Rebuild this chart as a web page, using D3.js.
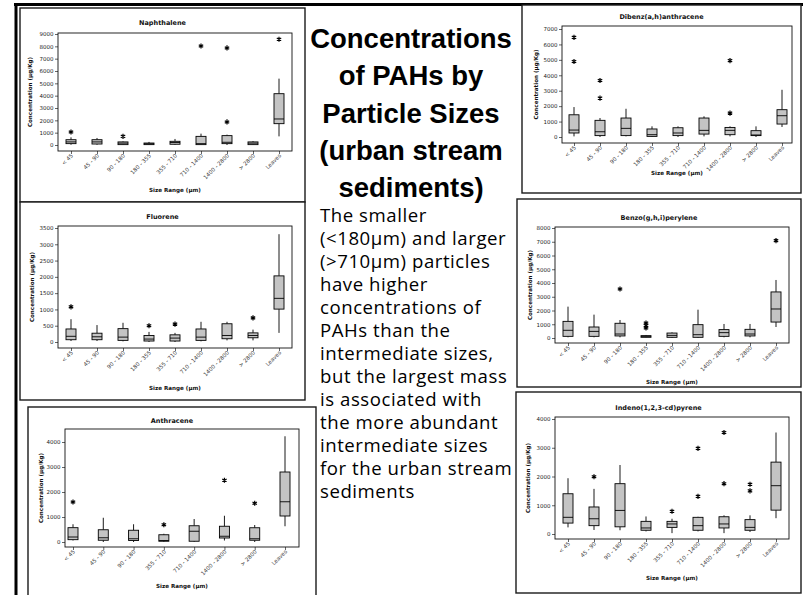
<!DOCTYPE html>
<html>
<head>
<meta charset="utf-8">
<script src="https://cdn.jsdelivr.net/npm/d3@7"></script>
<style>
  html, body { margin: 0; padding: 0; background: #fff; }
  svg { display: block; }
</style>
</head>
<body>
<svg id="slide" width="803" height="595"></svg>
<script>
// Size fractions (µm) used on the x axes
const sizeClasses = ["< 45", "45 - 90", "90 - 180", "180 - 355", "355 - 710", "710 - 1400", "1400 - 2800", "> 2800", "Leaves"];
const anthraceneClasses = ["< 45", "45 - 90", "90 - 180", "355 - 710", "710 - 1400", "1400 - 2800", "> 2800", "Leaves"];

// Box statistics per size class: [lower whisker, Q1, median, Q3, upper whisker] in µg/Kg
const naphthaleneStats = [[20,110,250,430,620],[20,80,250,430,570],[0,30,150,250,300],[0,30,100,160,250],[0,60,200,300,490],[0,30,110,700,920],[0,110,220,760,840],[0,30,150,250,320],[700,1730,2110,4160,5380]];
const naphthaleneOutliers = [[1050],[],[700],[],[],[8030],[7870,1870],[],[8570]];
const naphthaleneTicks = [0,1000,2000,3000,4000,5000,6000,7000,8000,9000];

const fluoreneStats = [[30,70,175,400,700],[30,70,160,270,520],[20,50,150,410,590],[0,30,90,200,310],[0,30,120,220,280],[20,50,150,400,620],[50,100,200,560,620],[50,130,200,280,380],[280,1010,1340,2030,3310]];
const fluoreneOutliers = [[1080],[],[],[500],[550],[],[],[740],[]];
const fluoreneTicks = [0,500,1000,1500,2000,2500,3000,3500];

const anthraceneStats = [[60,93,200,573,710],[0,70,170,490,970],[0,60,130,470,710],[0,30,60,290,330],[0,30,430,650,920],[60,160,230,630,1050],[0,70,130,570,680],[630,1040,1610,2800,4230]];
const anthraceneOutliers = [[1600],[],[],[690],[],[2470],[1550],[]];
const anthraceneTicks = [0,1000,2000,3000,4000];

const dibenzStats = [[40,260,450,1440,1940],[0,90,340,1080,1230],[40,90,560,1230,1830],[0,40,150,520,690],[0,90,260,600,690],[40,190,430,1230,1340],[40,150,430,620,690],[0,90,130,410,690],[650,840,1380,1770,3060]];
const dibenzOutliers = [[6460,4890],[3660,2520],[],[],[],[],[4950,1550],[],[]];
const dibenzTicks = [0,1000,2000,3000,4000,5000,6000,7000];

const benzoStats = [[50,120,560,1210,2280],[50,120,480,800,1700],[50,150,290,1070,1310],[30,50,120,170,220],[0,50,190,360,410],[0,50,240,970,2060],[50,120,390,610,1020],[50,150,290,630,1020],[800,1160,2110,3350,4220]];
const benzoOutliers = [[],[],[3560],[1090,900,730],[],[],[],[],[7080]];
const benzoTicks = [0,1000,2000,3000,4000,5000,6000,7000,8000];

const indenoStats = [[230,380,580,1400,1940],[140,290,530,940,1570],[130,250,820,1750,2400],[90,130,210,440,610],[30,230,350,440,530],[90,130,290,580,600],[30,210,350,600,650],[70,130,230,500,650],[550,830,1680,2500,3530]];
const indenoOutliers = [[],[1990],[],[],[790],[2980,1310],[3530,1750],[1730,1500],[]];
const indenoTicks = [0,1000,2000,3000,4000];

const headingLines = ["Concentrations", "of PAHs by", "Particle Sizes", "(urban stream", "sediments)"];
const bodyLines = ["The smaller", "(<180µm) and larger", "(>710µm) particles", "have higher", "concentrations of", "PAHs than the", "intermediate sizes,", "but the largest mass", "is associated with", "the more abundant", "intermediate sizes", "for the urban stream", "sediments"];

// Panel placement on the slide
const panels = [
  { title: "Naphthalene", cats: sizeClasses, stats: naphthaleneStats, outliers: naphthaleneOutliers, ticks: naphthaleneTicks,
    box: [20, 8, 285, 194], plot: [58, 292, 33, 151], y0: 145, yTop: 34, x0: 71, x1: 279, titleY: 23, ylabX: 30, xTitleY: 190 },
  { title: "Fluorene", cats: sizeClasses, stats: fluoreneStats, outliers: fluoreneOutliers, ticks: fluoreneTicks,
    box: [20, 202, 285, 198], plot: [58, 292, 226, 348], y0: 342, yTop: 228, x0: 71, x1: 279, titleY: 217, ylabX: 32, xTitleY: 388 },
  { title: "Anthracene", cats: anthraceneClasses, stats: anthraceneStats, outliers: anthraceneOutliers, ticks: anthraceneTicks,
    box: [28, 407, 288, 192], plot: [65, 299, 429, 547], y0: 542, yTop: 442, x0: 73, x1: 285, titleY: 421, ylabX: 41, xTitleY: 586 },
  { title: "Dibenz(a,h)anthracene", cats: sizeClasses, stats: dibenzStats, outliers: dibenzOutliers, ticks: dibenzTicks,
    box: [522, 5, 279, 188], plot: [562, 792, 26, 143], y0: 137, yTop: 29, x0: 574, x1: 782, titleY: 17, ylabX: 536, xTitleY: 173 },
  { title: "Benzo(g,h,i)perylene", cats: sizeClasses, stats: benzoStats, outliers: benzoOutliers, ticks: benzoTicks,
    box: [517, 199, 284, 188], plot: [555, 789, 227, 343], y0: 338, yTop: 228, x0: 568, x1: 776, titleY: 218, ylabX: 530, xTitleY: 382 },
  { title: "Indeno(1,2,3-cd)pyrene", cats: sizeClasses, stats: indenoStats, outliers: indenoOutliers, ticks: indenoTicks,
    box: [516, 392, 285, 201], plot: [555, 789, 417, 539], y0: 534, yTop: 419, x0: 568, x1: 776, titleY: 408, ylabX: 528, xTitleY: 578 }
];

const svg = d3.select("#slide");
const chartFont = "'DejaVu Sans', Verdana, sans-serif";

// Slide frame: heavy rules along the top and left
svg.append("line").attr("x1", 14).attr("x2", 803).attr("y1", 4.5).attr("y2", 4.5)
  .attr("stroke", "#000").attr("stroke-width", 3);
svg.append("line").attr("x1", 16).attr("x2", 16).attr("y1", 3).attr("y2", 595)
  .attr("stroke", "#000").attr("stroke-width", 3);

const asterisk = d3.symbol().type(d3.symbolAsterisk).size(18);

panels.forEach(p => {
  const g = svg.append("g");
  const [bx, by, bw, bh] = p.box;
  const [pl, pr, pt, pb] = p.plot;

  g.append("rect").attr("x", bx).attr("y", by).attr("width", bw).attr("height", bh)
    .attr("fill", "#fff").attr("stroke", "#1a1a1a").attr("stroke-width", 1.4);

  const x = d3.scalePoint().domain(p.cats).range([p.x0, p.x1]);
  const y = d3.scaleLinear().domain([0, p.ticks[p.ticks.length - 1]]).range([p.y0, p.yTop]);

  // Title
  g.append("text").attr("x", bx + bw / 2).attr("y", p.titleY + 2.3)
    .attr("text-anchor", "middle").attr("font-family", chartFont)
    .attr("font-weight", "bold").attr("font-size", 6.5).attr("fill", "#111").text(p.title);

  // Y axis
  const yAxis = g.append("g").attr("transform", `translate(${pl},0)`)
    .call(d3.axisLeft(y).tickValues(p.ticks).tickSize(3).tickPadding(1.5).tickFormat(d3.format("d")));
  yAxis.select(".domain").remove();
  yAxis.selectAll("text").attr("font-family", chartFont).attr("font-size", 5.5).attr("fill", "#222");
  yAxis.selectAll("line").attr("stroke", "#222").attr("stroke-width", 0.7);

  // X axis with slanted size-class labels
  const xAxis = g.append("g").attr("transform", `translate(0,${pb})`)
    .call(d3.axisBottom(x).tickSize(3).tickPadding(0));
  xAxis.select(".domain").remove();
  xAxis.selectAll("line").attr("stroke", "#222").attr("stroke-width", 0.7);
  xAxis.selectAll("text")
    .attr("font-family", chartFont).attr("font-size", 5.5).attr("fill", "#333")
    .attr("text-anchor", "end").attr("dy", 0)
    .attr("transform", "translate(2,5) rotate(-45)")
    .attr("y", 0).attr("x", 0);

  // Axis titles
  g.append("text").attr("transform", `translate(${p.ylabX + 2},${(pt + pb) / 2}) rotate(-90)`)
    .attr("text-anchor", "middle").attr("font-family", chartFont)
    .attr("font-weight", "bold").attr("font-size", 5.6).attr("fill", "#111")
    .text("Concentration (µg/Kg)");
  g.append("text").attr("x", (pl + pr) / 2).attr("y", p.xTitleY + 2)
    .attr("text-anchor", "middle").attr("font-family", chartFont)
    .attr("font-weight", "bold").attr("font-size", 5.6).attr("fill", "#111")
    .text("Size Range (µm)");

  // Boxes, whiskers, medians and outliers
  const half = 5;
  const boxes = g.selectAll("g.box").data(p.cats.map((c, i) => ({ c, s: p.stats[i], o: p.outliers[i] })))
    .join("g").attr("class", "box");
  boxes.append("line")
    .attr("x1", d => x(d.c)).attr("x2", d => x(d.c))
    .attr("y1", d => y(d.s[4])).attr("y2", d => y(d.s[3]))
    .attr("stroke", "#000").attr("stroke-width", 0.9);
  boxes.append("line")
    .attr("x1", d => x(d.c)).attr("x2", d => x(d.c))
    .attr("y1", d => y(d.s[1])).attr("y2", d => y(d.s[0]))
    .attr("stroke", "#000").attr("stroke-width", 0.9);
  boxes.append("rect")
    .attr("x", d => x(d.c) - half).attr("width", half * 2)
    .attr("y", d => y(d.s[3])).attr("height", d => Math.max(1, y(d.s[1]) - y(d.s[3])))
    .attr("fill", "#c4c4c4").attr("stroke", "#000").attr("stroke-width", 0.9);
  boxes.append("line")
    .attr("x1", d => x(d.c) - half).attr("x2", d => x(d.c) + half)
    .attr("y1", d => y(d.s[2])).attr("y2", d => y(d.s[2]))
    .attr("stroke", "#000").attr("stroke-width", 0.9);
  boxes.selectAll("path.out").data(d => d.o.map(v => ({ c: d.c, v })))
    .join("path").attr("class", "out")
    .attr("d", asterisk)
    .attr("transform", d => `translate(${x(d.c)},${y(d.v)})`)
    .attr("fill", "none").attr("stroke", "#000").attr("stroke-width", 1.2);

  // Plot frame
  g.append("rect").attr("x", pl).attr("y", pt).attr("width", pr - pl).attr("height", pb - pt)
    .attr("fill", "none").attr("stroke", "#111").attr("stroke-width", 0.9);
});

// Slide heading
svg.append("g").selectAll("text").data(headingLines).join("text")
  .attr("x", 411).attr("y", (d, i) => 48 + i * 37.3)
  .attr("text-anchor", "middle")
  .attr("font-family", "'Liberation Sans', Arial, sans-serif")
  .attr("font-weight", "bold").attr("font-size", 27.5).attr("fill", "#000")
  .text(d => d);

// Slide body text
svg.append("g").selectAll("text").data(bodyLines).join("text")
  .attr("x", 320).attr("y", (d, i) => 222 + i * 23)
  .attr("font-family", "'Open Sans', Lato, sans-serif")
  .attr("font-size", 18.6).attr("letter-spacing", 0.55).attr("fill", "#000")
  .text(d => d);
</script>
</body>
</html>
